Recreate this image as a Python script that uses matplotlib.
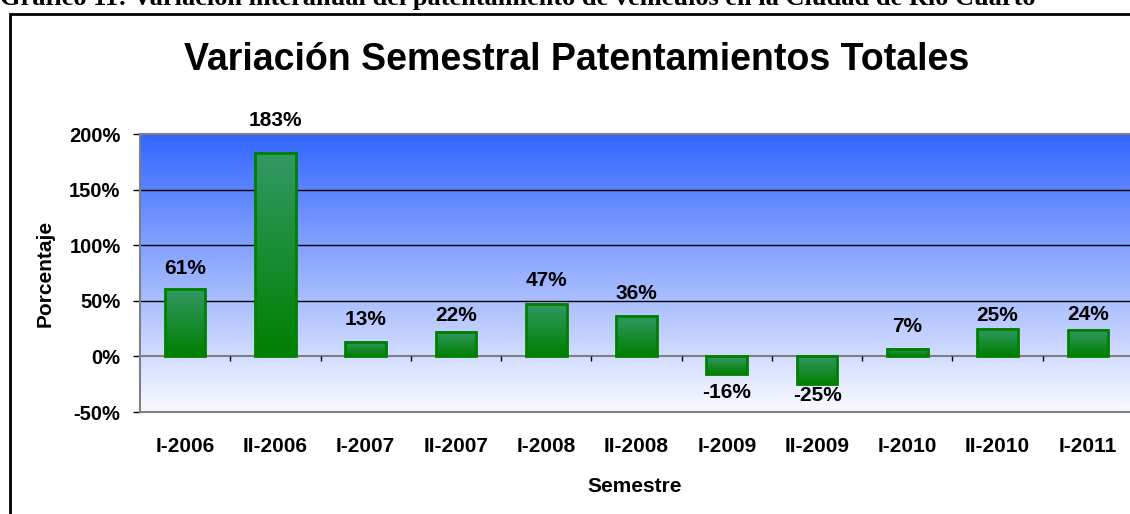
import numpy as np
import matplotlib
matplotlib.use('Agg')
import matplotlib.pyplot as plt
import matplotlib.transforms as mtransforms
from matplotlib.colors import LinearSegmentedColormap
from matplotlib.patches import Rectangle

# data
semestres = ['I-2006', 'II-2006', 'I-2007', 'II-2007', 'I-2008', 'II-2008',
             'I-2009', 'II-2009', 'I-2010', 'II-2010', 'I-2011']
variacion = [61, 183, 13, 22, 47, 36, -16, -25, 7, 25, 24]
yticks = [-50, 0, 50, 100, 150, 200]

title = 'Variación Semestral Patentamientos Totales'
caption = 'Gráfico 11: Variación interanual del patentamiento de vehículos en la Ciudad de Río Cuarto'

# label gaps (px) between bar end and its label, as placed in the original
label_gap = [11, 23, 13, 7, 14, 13, 9, 2, 13, 4, 6]

plt.rcParams['font.family'] = ['Liberation Sans', 'DejaVu Sans']

fig = plt.figure(figsize=(11.3, 5.14), dpi=100)
W, H = 1130, 514

# caption (cut off at the top of the page) and outer frame
fig.text(0.0, 1 - 4.5 / H, caption, family='Liberation Serif', weight='bold',
         fontsize=19, ha='left', va='baseline')
fig.add_artist(Rectangle((10 / W, -0.1), 1.2, 1.1 - 14 / H, transform=fig.transFigure,
                         fill=False, edgecolor='black', linewidth=2))

ax = fig.add_axes([140 / W, 1 - 412 / H, 993 / W, (412 - 134) / H])
ax.set_xlim(-0.5, len(semestres) - 0.5)
ax.set_ylim(yticks[0], yticks[-1])

# background gradient
bg = LinearSegmentedColormap.from_list('bg', [(0.98, 0.98, 1.0), (0.2, 0.4, 1.0)])
grad = np.linspace(0, 1, 256).reshape(-1, 1)
ax.imshow(grad, cmap=bg, origin='lower', aspect='auto', extent=[0, 1, 0, 1],
          transform=ax.transAxes, zorder=0)

for y in yticks[2:-1]:
    ax.axhline(y, color='black', linewidth=1.0, zorder=1)
ax.axhline(0, color='#808080', linewidth=1.5, zorder=1)

# bars with green gradient
green = LinearSegmentedColormap.from_list('gr', [(0.0, 0.5, 0.0), (0.2, 0.6, 0.4)])
bw = 0.45
x = np.arange(len(semestres))
for i, v in enumerate(variacion):
    lo, hi = min(0, v), max(0, v)
    ax.imshow(grad, cmap=green, origin='lower', aspect='auto',
              extent=[i - bw / 2, i + bw / 2, lo, hi], zorder=2)
bars = ax.bar(x, variacion, width=bw, facecolor='none', edgecolor='#008000',
              linewidth=2, zorder=3)
ax.set_xlim(-0.5, len(semestres) - 0.5)
ax.set_ylim(yticks[0], yticks[-1])

# category separator ticks on the zero line
sep = x[:-1] + 0.5
ax.vlines(sep, -4.5, 0, color='black', linewidth=1, zorder=1)

# data labels
for i, v in enumerate(variacion):
    off = label_gap[i] * 0.72
    ax.annotate(f'{v}%', (i, v), xytext=(0, off if v >= 0 else -off),
                textcoords='offset points', ha='center',
                va='bottom' if v >= 0 else 'top',
                fontsize=15, fontweight='bold', zorder=4)

# axes styling
for s in ['left', 'bottom', 'top']:
    ax.spines[s].set_color('#808080')
    ax.spines[s].set_linewidth(1.5)
ax.spines['right'].set_visible(False)
ax.set_yticks(yticks)
ax.set_yticklabels([f'{t}%' for t in yticks], fontsize=14.5, fontweight='bold')
ax.tick_params(axis='y', length=5, width=1, color='black', pad=9)
ax.set_xticks([])

trans = mtransforms.blended_transform_factory(ax.transData, ax.transAxes)
for i, lab in enumerate(semestres):
    ax.text(i, -0.125, lab, transform=trans, ha='center', va='center',
            fontsize=15, fontweight='bold')

fig.text(635 / W, 1 - 487 / H, 'Semestre', ha='center', va='center',
         fontsize=15, fontweight='bold')
fig.text(45 / W, 1 - 273 / H, 'Porcentaje', ha='center', va='center',
         rotation=90, fontsize=15, fontweight='bold')
fig.text(577 / W, 1 - 60 / H, title, ha='center', va='center',
         fontsize=27, fontweight='bold')

fig.savefig('out.png', dpi=100)
